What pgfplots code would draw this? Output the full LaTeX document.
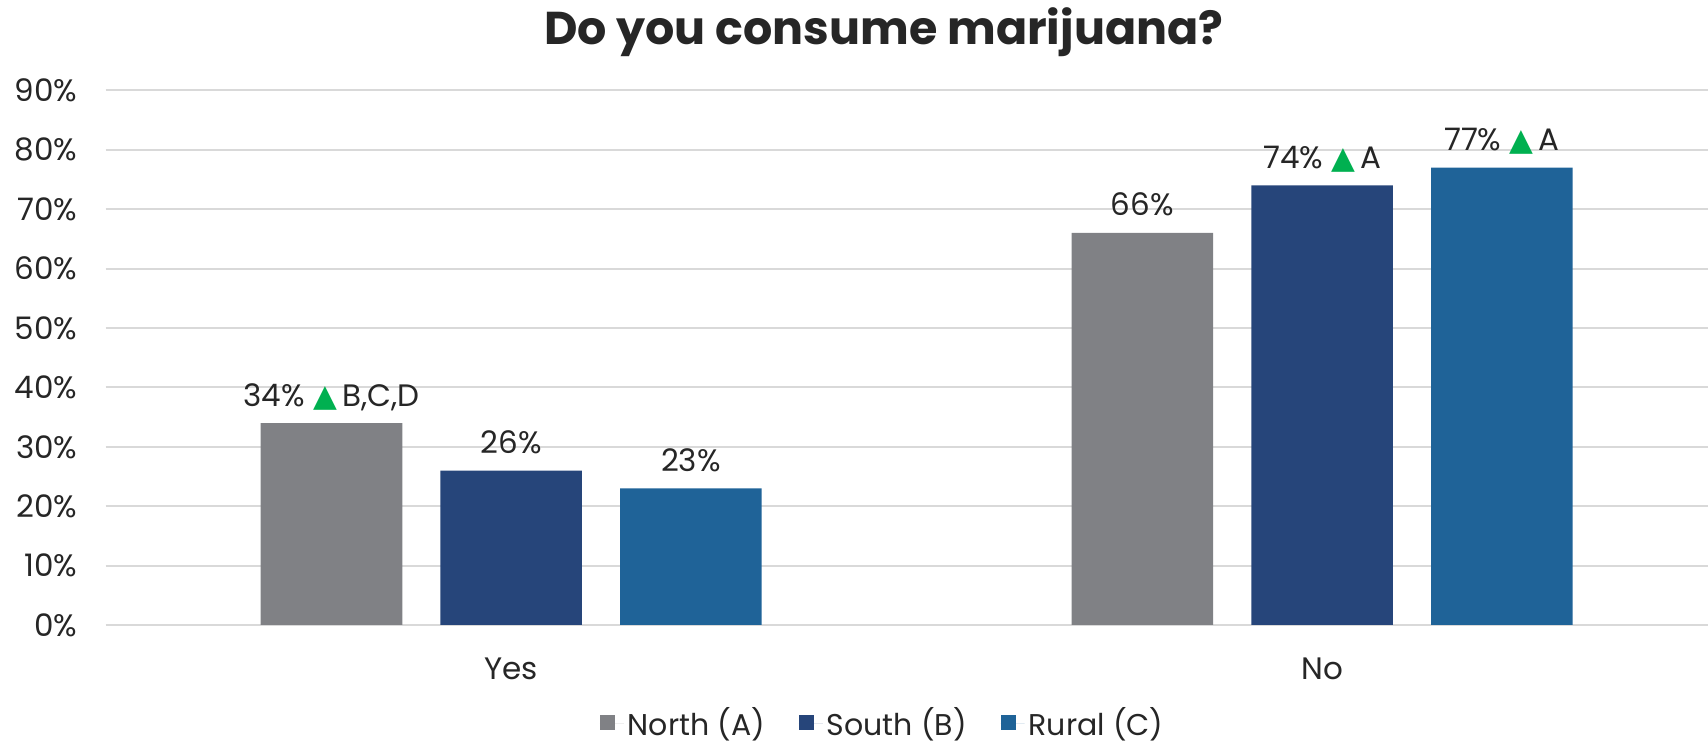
\documentclass[border=0pt]{standalone}
\usepackage{pgfplots}
\pgfplotsset{compat=1.18}
\usepackage{fontspec}
\setmainfont{Poppins}
\newfontfamily\sym{DejaVu Sans}
\definecolor{cnorth}{HTML}{808185}
\definecolor{csouth}{HTML}{26457A}
\definecolor{crural}{HTML}{1F6398}
\definecolor{cgreen}{HTML}{00B050}
\definecolor{ctext}{HTML}{262626}
\definecolor{cgrid}{HTML}{D9D9D9}
\newcommand{\tri}{{\sym\fontsize{15.5}{17}\selectfont\color{cgreen}▲}\kern2.5pt}
\newcommand{\lf}{\fontsize{15.5}{18}\selectfont}
\begin{document}
\begin{tikzpicture}
\begin{axis}[
  name=ax, at={(0,0)}, anchor=south west,
  scale only axis, width=801.2pt, height=267.3pt,
  xmin=-0.5, xmax=1.476, ymin=0, ymax=90,
  ytick={0,10,20,30,40,50,60,70,80,90},
  yticklabels={0\%,10\%,20\%,30\%,40\%,50\%,60\%,70\%,80\%,90\%},
  xtick={0,1}, xticklabels={Yes,No},
  major tick length=0pt,
  axis line style={draw=none},
  ymajorgrids, grid style={cgrid, line width=1pt},
  ybar, bar width=70.8pt,
  clip=false,
  every tick label/.append style={font=\lf, text=ctext},
  yticklabel style={anchor=east, inner sep=0pt, xshift=-14pt},
  xticklabel style={anchor=base, yshift=-27.5pt},
  point meta=explicit symbolic,
  nodes near coords,
  nodes near coords style={font=\lf, text=ctext, anchor=base, inner sep=0pt, yshift=8.5pt},
  title={Do you consume marijuana?},
  title style={at={(0.4855,1.0635)}, anchor=base, yshift=0pt, font=\fontsize{23}{27}\selectfont\bfseries, text=ctext},
  legend style={at={(0.4855,-0.184)}, anchor=center, draw=none, font=\fontsize{15}{18}\selectfont, text=ctext,
    /tikz/every even column/.append style={column sep=15pt}},
  legend columns=3,
  legend image code/.code={\fill[#1] (0pt,-3.2pt) rectangle (7.5pt,4.3pt); \path (0pt,0pt) -- (12pt,0pt);},
]
\addplot[fill=cnorth, draw=none, bar shift=-89.85pt] coordinates {(0,34) [34\% \tri B,C,D] (1,66) [66\%]};
\addplot[fill=csouth, draw=none, bar shift=0pt] coordinates {(0,26) [26\%] (1,74) [74\% \tri A]};
\addplot[fill=crural, draw=none, bar shift=89.85pt] coordinates {(0,23) [23\%] (1,77) [77\% \tri A]};
\legend{North (A), South (B), Rural (C)}
\end{axis}
\pgfresetboundingbox
\useasboundingbox (ax.south west) ++(-52.85pt,-61.5pt) rectangle ++(854pt,374pt);
\end{tikzpicture}
\end{document}
